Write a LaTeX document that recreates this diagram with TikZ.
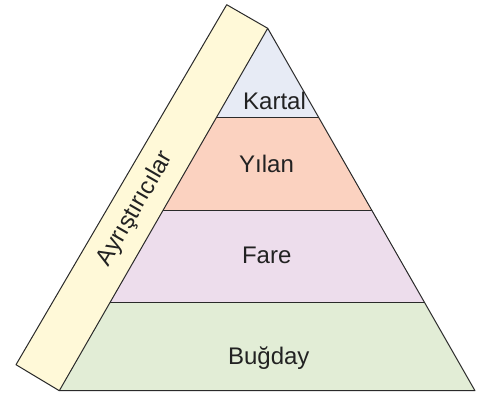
\documentclass[tikz,border=0pt]{standalone}
\usepackage{fontspec}
\setmainfont{Liberation Sans}
\begin{document}
\begin{tikzpicture}[x=1bp,y=-1bp,line join=round,
  edge/.style={draw=linegray,line width=1bp},
  label/.style={font=\fontsize{24bp}{28bp}\selectfont,text=textgray,inner sep=0pt,anchor=base}]
\definecolor{linegray}{HTML}{2A2A2A}
\definecolor{textgray}{HTML}{222222}
\definecolor{ckartal}{HTML}{E7EBF5}
\definecolor{cyilan}{HTML}{FBD2C0}
\definecolor{cfare}{HTML}{EDDDEC}
\definecolor{cbugday}{HTML}{E2EDD6}
\definecolor{cayr}{HTML}{FFF9D8}
\useasboundingbox (0,0) rectangle (488,395);
% key points
\coordinate (apex) at (267.7,28.3);
\coordinate (bl) at (59.3,390.7);
\coordinate (br) at (475,390.7);
\coordinate (tl) at (226.7,4.7);
\coordinate (yb) at (16,364.7);
\coordinate (l1) at (216.5,117.3);
\coordinate (r1) at (318.6,117.3);
\coordinate (l2) at (163.2,210);
\coordinate (r2) at (371.6,210);
\coordinate (l3) at (110.1,302.3);
\coordinate (r3) at (424.4,302.3);
% fills
\fill[cayr] (tl) -- (apex) -- (bl) -- (yb) -- cycle;
\fill[ckartal] (apex) -- (r1) -- (l1) -- cycle;
\fill[cyilan] (l1) -- (r1) -- (r2) -- (l2) -- cycle;
\fill[cfare] (l2) -- (r2) -- (r3) -- (l3) -- cycle;
\fill[cbugday] (l3) -- (r3) -- (br) -- (bl) -- cycle;
% outlines
\draw[edge] (apex) -- (tl) -- (yb) -- (bl);
\draw[edge] (bl) -- (apex) -- (br) -- cycle;
\draw[edge] (l1) -- (r1);
\draw[edge] (l2) -- (r2);
\draw[edge] (l3) -- (r3);
% labels
\node[label] (kartal) at (274.5,109.3) {Kartal};
\node[label] (yilan) at (266.5,172.3) {Yılan};
\node[label] (fare) at (266.7,263) {Fare};
\node[label] (bugday) at (268.8,364.3) {Buğday};
\node[label,anchor=center,rotate=60] (ayr) at (135.5,209) {Ayrıştırıcılar};
\end{tikzpicture}
\end{document}
